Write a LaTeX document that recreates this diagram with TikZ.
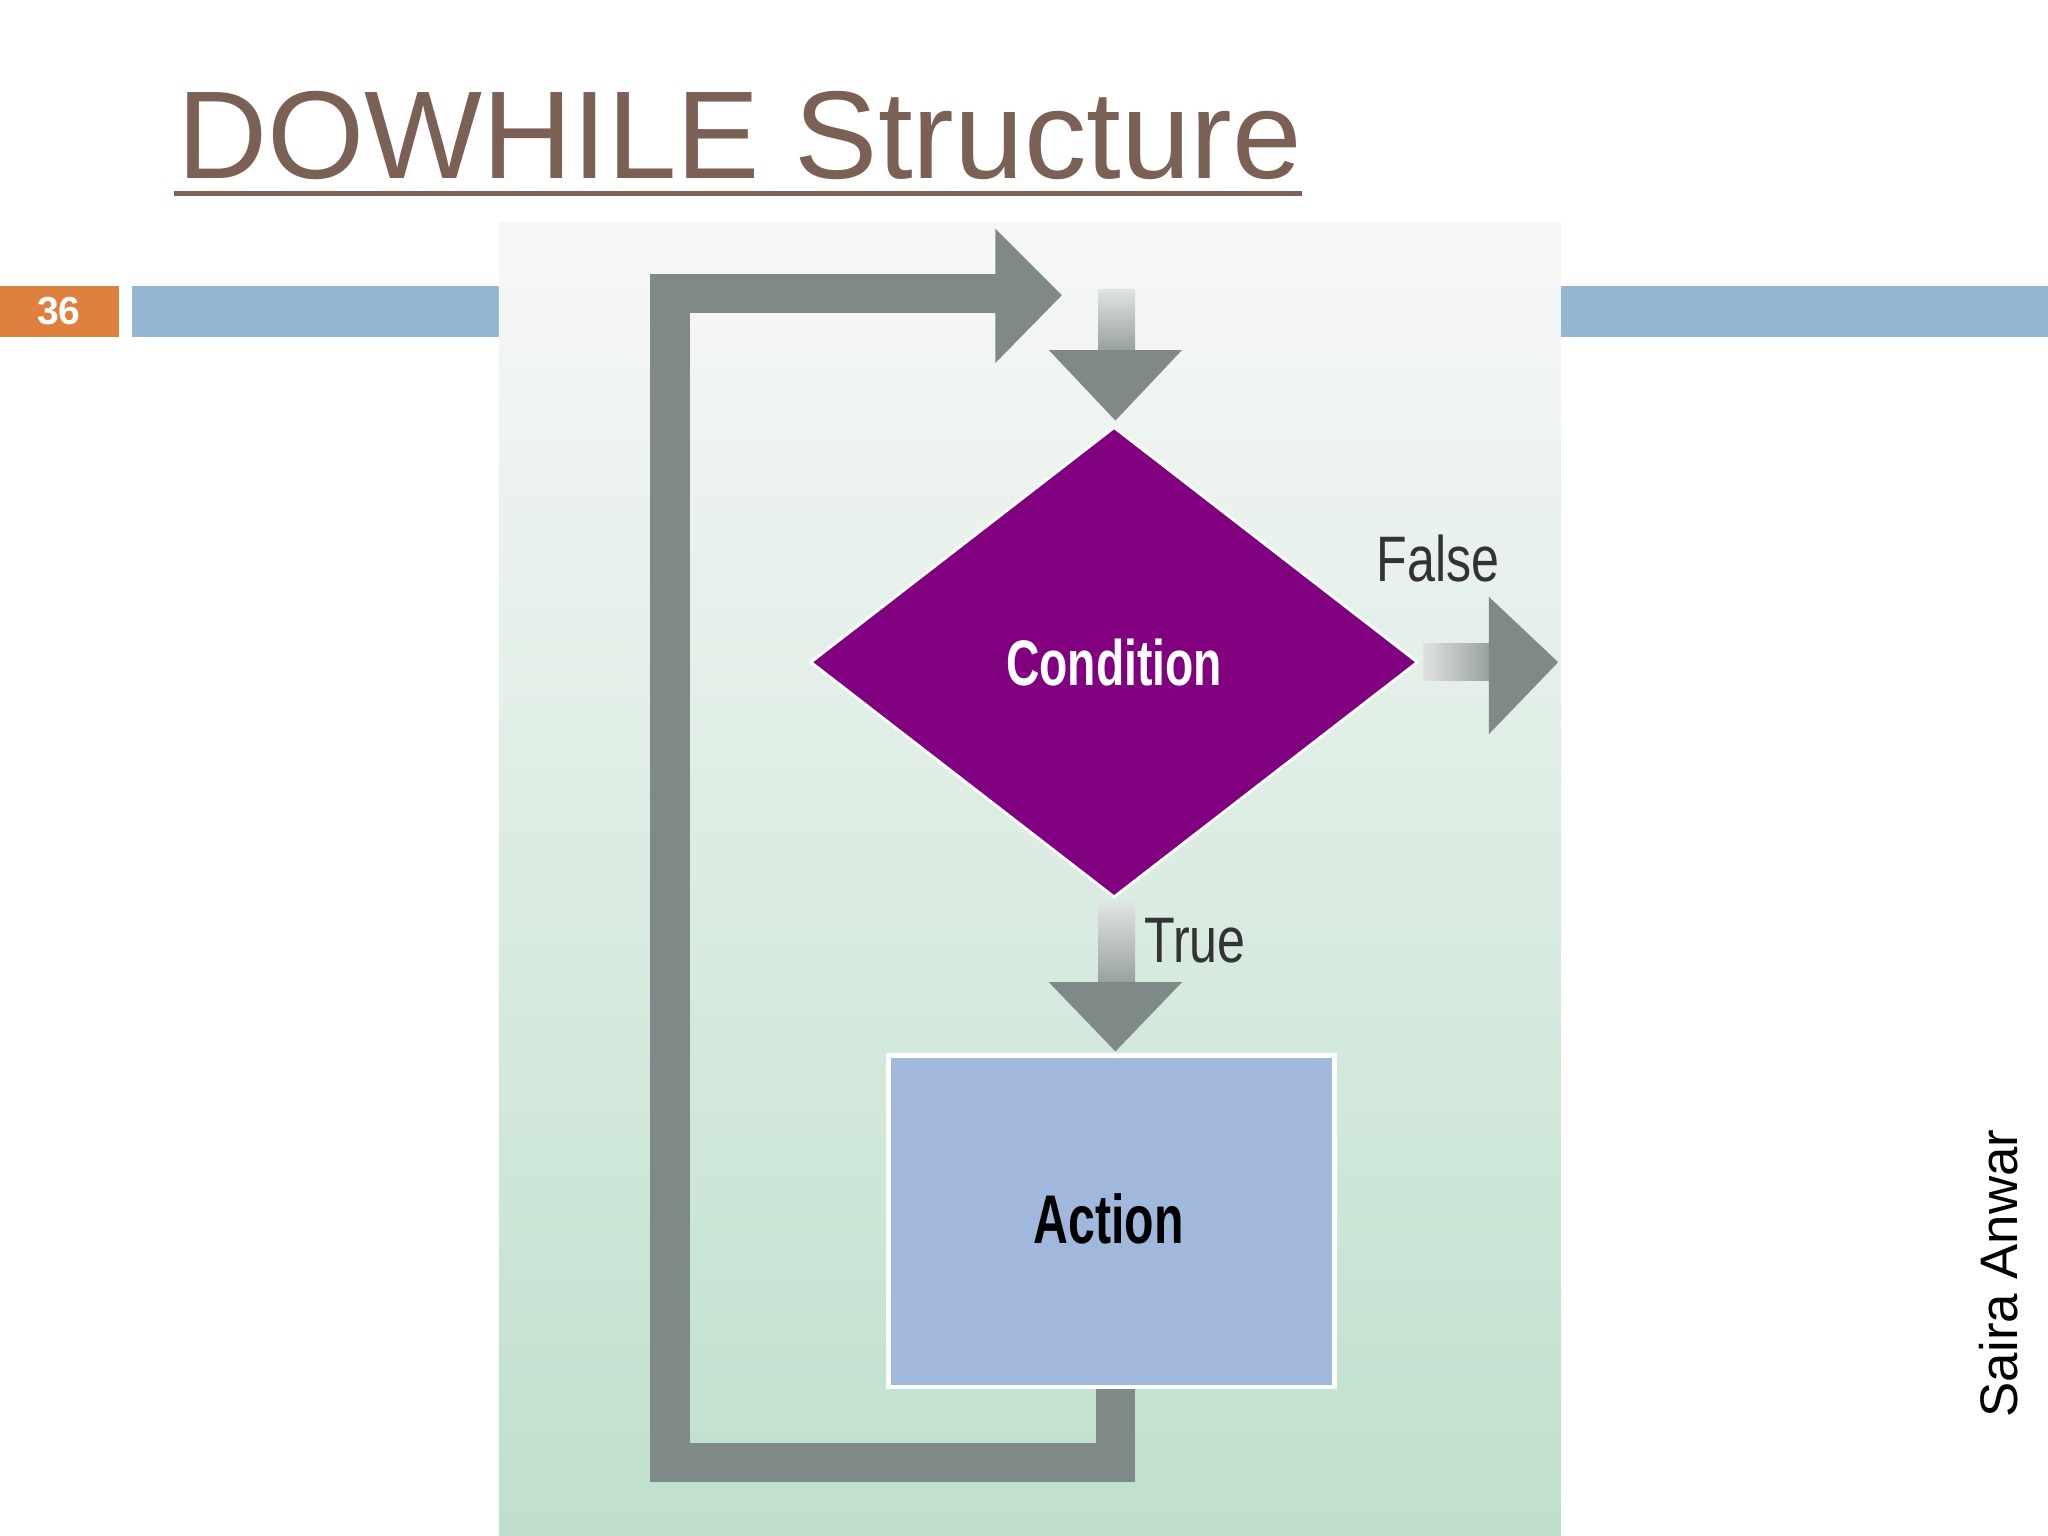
\documentclass[tikz,border=0pt]{standalone}
\usepackage{fontspec}
\setmainfont{Liberation Sans}
\usetikzlibrary{shapes.geometric}
\definecolor{titlec}{HTML}{7A6055}
\definecolor{orangec}{HTML}{E0803F}
\definecolor{barc}{HTML}{94B6D2}
\definecolor{arrc}{HTML}{7F8A88}
\definecolor{purp}{HTML}{800080}
\definecolor{actc}{HTML}{A0B8DC}
\definecolor{lblc}{HTML}{333333}
\tikzset{
  lbl/.style={font=\fontsize{14}{14}\selectfont, text=lblc, xscale=0.78, inner sep=0},
  head/.style={fill=arrc, draw=none},
  stem/.style={top color=arrc!25, bottom color=arrc!80, draw=none},
}
\begin{document}
\begin{tikzpicture}[x=0.01cm,y=-0.01cm]
\useasboundingbox (0,0) rectangle (1568,1176);
\fill[white] (0,0) rectangle (1568,1176);
% title
\node[anchor=base west, inner sep=0, text=titlec, font=\fontsize{27.2}{28}\selectfont] (title) at (135,137) {DOWHILE Structure};
\draw[titlec, line width=0.04cm] (133,148) -- (997,148);
% bars
\fill[orangec] (0,219) rectangle (91,258);
\node[text=white, font=\bfseries\fontsize{8.5}{9}\selectfont] (num) at (45,238) {36};
\fill[barc] (101,219) rectangle (1568,258);
% panel
\fill[top color=black!3!white, bottom color={rgb,255:red,190;green,224;blue,204}] (382,170) rectangle (1195,1176);
% nodes
\node[diamond, fill=purp, draw=white, line width=0.6pt, minimum width=4.65cm, minimum height=3.6cm, inner sep=0] (cond) at (853,507) {};
\node[text=white, font=\bfseries\fontsize{14}{15}\selectfont, xscale=0.72] (condt) at (853,507) {Condition};
\node[rectangle, fill=actc, draw=white, line width=1pt, minimum width=3.41cm, minimum height=2.54cm, inner sep=0] (act) at (851,935) {};
\node[font=\bfseries\fontsize{15}{16}\selectfont, xscale=0.7] (actt) at (849,933) {Action};
% top arrow
\fill[stem] (841,222) rectangle (869,268);
\fill[head] (803,268) -- (905,268) -- (854,322) -- cycle;
% false arrow
\fill[left color=arrc!25, right color=arrc!80, draw=none] (1090,493) rectangle (1140,521);
\fill[head] (1140,457) -- (1193,507) -- (1140,562) -- cycle;
\node[lbl, anchor=center] (false) at (1101,428) {False};
% true arrow
\fill[stem] (841,692) rectangle (869,752);
\fill[head] (803,752) -- (905,752) -- (854,805) -- cycle;
\node[lbl] (true) at (915,720) {True};
% loop
\coordinate (l2) at (513,1120);
\coordinate (l3) at (513,225);
\coordinate (l4) at (765,225);
\draw[arrc, line width=0.3cm] (act.south) ++(3,0) |- (l2) -- (l3) -- (l4);
\fill[head] (762,175) -- (813,226) -- (762,278) -- cycle;
% author
\node[rotate=90, font=\fontsize{11.5}{12}\selectfont] (author) at (1530,975) {Saira Anwar};
\end{tikzpicture}
\end{document}
